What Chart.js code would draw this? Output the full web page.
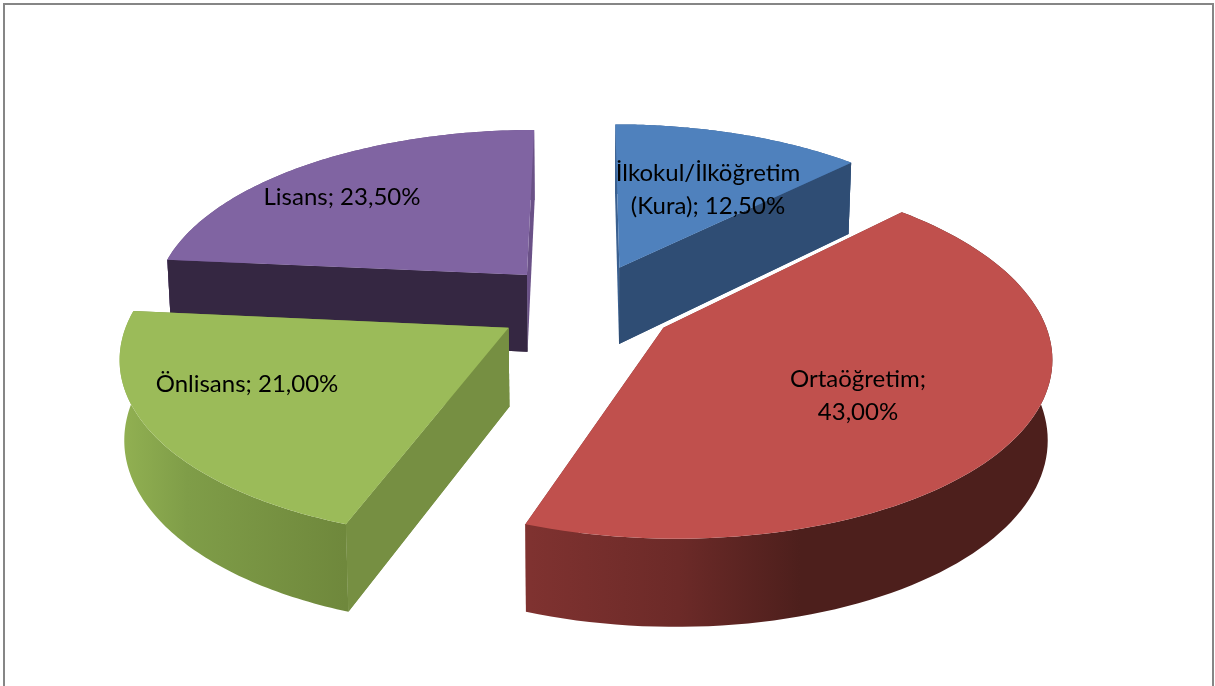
<!DOCTYPE html>
<html><head><meta charset="utf-8">
<script src="https://cdn.jsdelivr.net/npm/chart.js@4"></script>
<style>html,body{margin:0;padding:0;background:#fff;overflow:hidden}canvas{display:block}</style>
</head><body><canvas id="c" width="1215" height="686"></canvas>
<script>
const categories = ['İlkokul/İlköğretim', 'Ortaöğretim', 'Önlisans', 'Lisans'];
const values = [12.5, 43, 21, 23.5];
const topColors = ['#4f81bd', '#c0504d', '#9bbb59', '#8064a2'];
const cutColors = ['#2f4d74', '#7f3230', '#768f42', '#352742'];
const sideColors = ['#3a6090', '#7f3230', '#768f42', '#6a5187'];
const labelLines = [[categories[0], '(Kura); ' + fmt(values[0])], [categories[1] + ';', fmt(values[1])], [categories[2] + '; ' + fmt(values[2])], [categories[3] + '; ' + fmt(values[3])]];
const labelSpots = [[708, 190], [858, 396], [247, 384], [342, 197]];
const paintOrder = [3, 0, 2, 1];
function fmt(v){ return v.toFixed(2).replace('.', ',') + '%'; }

const CX = 586, CY = 305, R = 376, TILT = 0.462, PERSP = 0.00038, DEPTH = 78, SHRINK = 0.99;
function project(X, Y, low){
  const f = 1 / (1 + PERSP * Y);
  let x = CX + X * f, y = CY - TILT * Y * f;
  if (low){ x = CX + (x - CX) * SHRINK; y += DEPTH * Math.pow(f, 0.7); }
  return [x, y];
}
const solid3d = {
  id: 'solid3d',
  beforeDraw(chart){
    const c = chart.ctx;
    c.save(); c.fillStyle = '#fff'; c.fillRect(0, 0, 1215, 686);
    c.strokeStyle = '#868686'; c.lineWidth = 2; c.strokeRect(4, 4, 1209, 800); c.restore();
  },
  beforeDatasetsDraw(chart){
    const c = chart.ctx, arcs = chart.getDatasetMeta(0).data;
    const rimFill = i => {
      if (i === 1){
        const g = c.createLinearGradient(530, 0, 800, 0);
        g.addColorStop(0, '#7f3230'); g.addColorStop(0.55, '#6c2a28'); g.addColorStop(1, '#4d1f1c');
        return g;
      }
      if (i === 2){
        const g = c.createLinearGradient(120, 0, 345, 0);
        g.addColorStop(0, '#92b152'); g.addColorStop(0.3, '#7f9d48'); g.addColorStop(1, '#6f883c');
        return g;
      }
      return sideColors[i];
    };
    const poly = (pts, fill) => {
      c.beginPath(); pts.forEach((p, k) => k ? c.lineTo(p[0], p[1]) : c.moveTo(p[0], p[1]));
      c.closePath(); c.fillStyle = fill; c.fill();
    };
    for (const i of paintOrder){
      const a = arcs[i], s = a.startAngle + Math.PI / 2, e = a.endAngle + Math.PI / 2, mid = (s + e) / 2;
      const off = a.options.offset;
      const ex = off * Math.sin(mid), ey = off * Math.cos(mid);
      const pt = (t, rho, low) => project(ex + rho * Math.sin(t), ey + rho * Math.cos(t), low);
      const rimTop = [], rimLow = [];
      for (let k = 0; k <= 90; k++){
        const t = s + (e - s) * k / 90;
        rimTop.push(pt(t, R, false)); rimLow.push(pt(t, R, true));
      }
      const apexT = pt(0, 0, false), apexL = pt(0, 0, true);
      const startColor = i === 0 ? sideColors[0] : cutColors[i];
      const endColor = i === 3 ? sideColors[3] : cutColors[i];
      poly([apexT, rimTop[0], rimLow[0], apexL], startColor);
      poly([apexT, rimTop[90], rimLow[90], apexL], endColor);
      poly(rimTop.concat(rimLow.slice().reverse()), rimFill(i));
      if (i === 0) poly([apexT, rimTop[90], rimLow[90], apexL], cutColors[0]);
      if (i === 3) poly([apexT, rimTop[0], rimLow[0], apexL], cutColors[3]);
      if (i === 2) poly([apexT, rimTop[0], rimLow[0], apexL], cutColors[2]);
      poly([apexT].concat(rimTop), topColors[i]);
    }
    return false;
  },
  afterDraw(chart){
    const c = chart.ctx;
    c.save(); c.font = '24px Lato'; c.fillStyle = '#000'; c.textAlign = 'center'; c.textBaseline = 'middle';
    labelLines.forEach((lines, i) => {
      const [x, y] = labelSpots[i];
      lines.forEach((t, k) => c.fillText(t, x, y + (k - (lines.length - 1) / 2) * 33));
    });
    c.restore();
  }
};
new Chart(document.getElementById('c'), {
  type: 'pie',
  data: { labels: categories, datasets: [{ data: values, backgroundColor: topColors, borderWidth: 0, offset: [90, 90, 90, 90] }] },
  options: { responsive: false, animation: false, plugins: { legend: { display: false }, tooltip: { enabled: false }, title: { display: false } } },
  plugins: [solid3d]
});
</script></body></html>
